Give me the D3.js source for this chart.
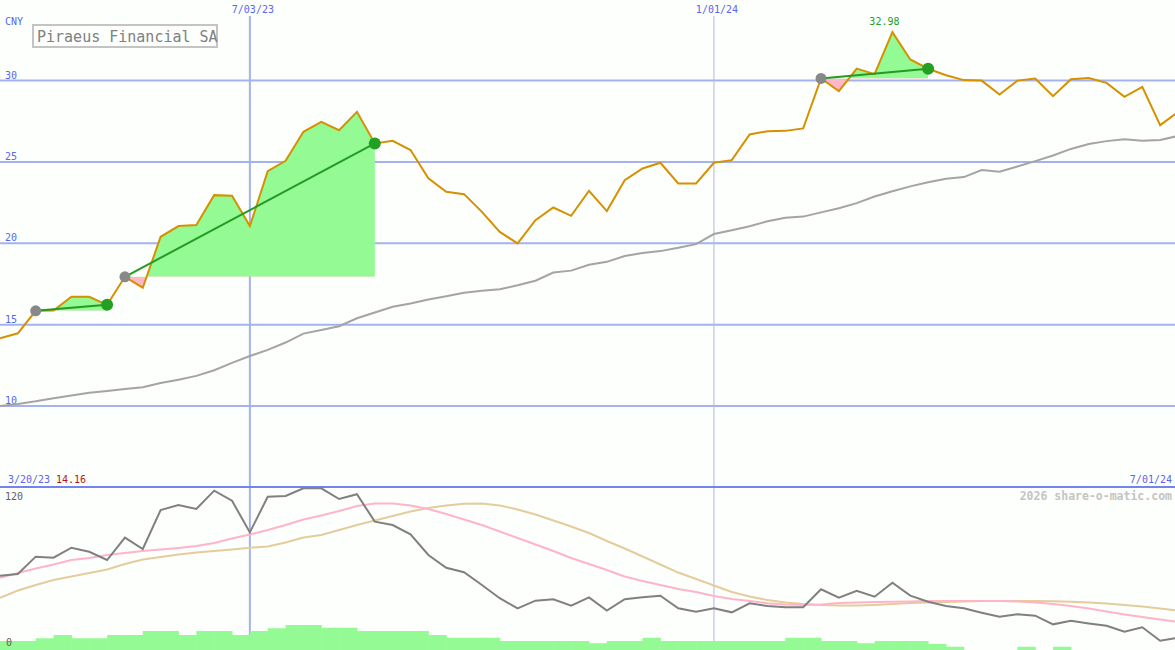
<!DOCTYPE html>
<html><head><meta charset="utf-8">
<script src="https://cdn.jsdelivr.net/npm/d3@7"></script>
<style>
html,body{margin:0;padding:0;background:#fcfffc;}
svg{display:block;}
text{font-family:"DejaVu Sans Mono",monospace;}
</style></head>
<body>
<svg id="c" width="1175" height="650"></svg>
<script>
// ---------- data ----------
const startDate = new Date(2023, 2, 27);
const endDate = new Date(2024, 6, 1);
const price = [14.16,14.47,15.85,15.87,16.71,16.71,16.22,17.94,17.27,20.4,21.06,21.12,22.96,22.92,21.06,24.43,25.07,26.85,27.47,26.95,28.08,26.14,26.3,25.73,23.99,23.17,23.02,21.93,20.7,19.99,21.42,22.2,21.69,23.23,21.98,23.88,24.6,24.95,23.68,23.68,24.95,25.11,26.69,26.89,26.91,27.06,30.13,29.35,30.74,30.4,32.98,31.3,30.73,30.33,30.03,30.0,29.15,30.0,30.13,29.04,30.08,30.16,29.86,29.0,29.61,27.26,28.06];
const longAvg = [10.0,10.13,10.29,10.48,10.64,10.81,10.92,11.04,11.15,11.41,11.62,11.85,12.2,12.65,13.07,13.45,13.9,14.45,14.67,14.9,15.39,15.75,16.1,16.3,16.55,16.75,16.96,17.08,17.17,17.42,17.7,18.2,18.32,18.68,18.86,19.22,19.4,19.52,19.73,19.95,20.57,20.8,21.05,21.35,21.57,21.64,21.9,22.15,22.47,22.88,23.2,23.5,23.75,23.97,24.07,24.5,24.4,24.72,25.05,25.4,25.8,26.1,26.28,26.4,26.3,26.35,26.6];
const osc = [53.6,55.0,68.4,67.6,75.3,72.2,65.8,83.1,74.3,104.5,108.4,105.3,119.5,111.7,87.2,114.8,115.4,121.3,121.3,113.0,116.7,95.5,92.9,85.7,69.7,59.8,56.3,46.5,36.2,28.4,34.3,35.4,30.4,36.9,26.6,35.4,36.9,38.2,28.4,25.8,28.4,25.3,32.3,30.2,29.2,29.2,43.1,36.6,42.0,37.4,48.2,38.2,33.5,30.2,28.4,25.0,21.9,23.8,22.7,16.0,18.8,16.7,14.9,10.3,13.7,3.3,5.7];
const oscFast = [52.1,55.7,59.2,62.3,65.8,67.4,69.7,71.2,72.8,73.9,75.1,76.6,79.0,82.5,85.5,89.0,92.9,97.2,100.3,103.7,107.6,109.5,109.5,108.0,105.3,101.4,97.2,92.9,87.9,82.8,77.8,72.8,67.4,62.7,58.1,53.0,49.5,46.5,43.4,41.0,37.9,35.6,34.1,32.3,31.4,31.0,31.4,32.5,32.9,33.3,33.5,33.7,34.1,34.1,34.1,34.1,34.1,33.7,32.9,31.7,30.2,28.3,25.9,23.6,21.7,19.7,17.8];
const oscSlow = [36.6,42.2,46.5,50.3,53.0,55.7,58.5,62.7,66.2,68.1,70.1,71.6,72.8,73.9,75.3,76.3,79.4,83.2,85.2,89.0,92.9,96.4,99.9,103.4,106.1,108.0,109.3,109.5,108.0,104.9,101.0,96.4,91.7,86.7,80.5,74.7,68.5,62.3,56.1,51.1,46.1,41.0,37.5,34.8,32.9,31.7,31.0,30.6,30.6,31.0,31.7,32.5,32.9,33.3,33.7,34.1,34.1,34.1,34.1,33.8,33.5,32.9,32.1,31.0,29.8,28.3,26.7];
const volume = [3.6,3.6,4.7,6,4.7,4.7,6,6,7.6,7.6,6,7.6,7.6,6,7.6,8.7,10,10,8.9,8.9,7.6,7.6,7.6,7.6,6,4.9,4.9,4.9,3.6,3.6,3.6,3.6,3.6,2.7,3.6,3.6,4.9,3.6,3.6,3.6,3.6,3.6,3.6,3.6,4.9,4.9,3.6,3.6,2.7,3.6,3.6,3.6,2.4,1.3,0,0,0,1.3,0,1.3,0,0,0,0,0,0,0];
const tradeEntry = [2, 7, 46];
const tradeExit = [6, 21, 52];
const priceTicks = [10, 15, 20, 25, 30];
const dateTicks = [new Date(2023, 6, 3), new Date(2024, 0, 1)];
const dateTickLabels = ["7/03/23", "1/01/24"];
const title = "Piraeus Financial SA";
const currency = "CNY";
const startLabel = "3/20/23";
const endLabel = "7/01/24";
const oscTopLabel = "120";
const oscBottomLabel = "0";
const credit = "2026 share-o-matic.com";

// ---------- build ----------
const dates = d3.timeWeek.range(startDate, d3.timeDay.offset(endDate, 1), 1).map(d => d);
const weekly = d3.timeMonday.range(startDate, d3.timeDay.offset(endDate, 1));
const D = weekly.slice(0, price.length);

const W = 1175, H = 650;
const svg = d3.select("#c");
svg.append("rect").attr("width", W).attr("height", H).attr("fill", "#fcfffc");

const x = d3.scaleTime().domain([startDate, endDate]).range([0, 1178]);
const y = d3.scaleLinear().domain([10, 30]).range([406, 80.6]);
const yo = d3.scaleLinear().domain([0, 120]).range([645, 490]);
const yv = d3.scaleLinear().domain([0, 10]).range([650, 625]);

const gridCol = "#a4b2f0";
const labCol = "#5a66f0";

// horizontal grid
const g = svg.append("g");
g.selectAll("line.h").data(priceTicks).join("line")
  .attr("x1", 0).attr("x2", W)
  .attr("y1", d => y(d)).attr("y2", d => y(d))
  .attr("stroke", gridCol).attr("stroke-width", 2);
g.selectAll("text.h").data(priceTicks).join("text")
  .attr("x", 5).attr("y", d => y(d) - 2)
  .attr("font-size", 10).attr("fill", labCol).text(d => d);

// vertical date lines
g.selectAll("line.v").data(dateTicks).join("line")
  .attr("x1", d => x(d)).attr("x2", d => x(d))
  .attr("y1", 16).attr("y2", H)
  .attr("stroke", (d, i) => i === 0 ? gridCol : "#b4b8d8")
  .attr("stroke-width", (d, i) => i === 0 ? 2 : 1);
g.selectAll("text.v").data(dateTicks).join("text")
  .attr("x", d => x(d) + 3).attr("y", 13).attr("text-anchor", "middle")
  .attr("font-size", 10).attr("fill", labCol).text((d, i) => dateTickLabels[i]);

// currency
svg.append("text").attr("x", 5).attr("y", 25).attr("font-size", 10).attr("fill", labCol).text(currency);

// title box
svg.append("rect").attr("x", 33).attr("y", 25).attr("width", 184).attr("height", 22)
  .attr("fill", "#fcfffc").attr("stroke", "#c4c4c4").attr("stroke-width", 2);
svg.append("text").attr("x", 37).attr("y", 41.5).attr("font-size", 15).attr("fill", "#808080").text(title);

// trade fills
const clipAbove = [], clipBelow = [];
tradeEntry.forEach((e, t) => {
  const idx = d3.range(e, tradeExit[t] + 1);
  const lvl = price[e];
  const area = d3.area().x(i => x(D[i])).y0(y(lvl)).y1(i => y(price[i]));
  const idA = "ca" + t, idB = "cb" + t;
  const defs = svg.append("defs");
  defs.append("clipPath").attr("id", idA).append("rect")
    .attr("x", 0).attr("y", 0).attr("width", W).attr("height", y(lvl));
  defs.append("clipPath").attr("id", idB).append("rect")
    .attr("x", 0).attr("y", y(lvl)).attr("width", W).attr("height", H);
  svg.append("path").attr("d", area(idx)).attr("fill", "#94fa94").attr("clip-path", `url(#${idA})`);
  svg.append("path").attr("d", area(idx)).attr("fill", "#ffb8c8").attr("clip-path", `url(#${idB})`);
});

// long average
svg.append("path")
  .attr("d", d3.line().x((d, i) => x(D[i])).y(d => y(d))(longAvg))
  .attr("fill", "none").attr("stroke", "#a4a4a4").attr("stroke-width", 2);

// price line
svg.append("path")
  .attr("d", d3.line().x((d, i) => x(D[i])).y(d => y(d))(price))
  .attr("fill", "none").attr("stroke", "#d69000").attr("stroke-width", 2);

// trade lines and dots
tradeEntry.forEach((e, t) => {
  const s = tradeExit[t];
  svg.append("line")
    .attr("x1", x(D[e])).attr("y1", y(price[e]))
    .attr("x2", x(D[s])).attr("y2", y(price[s]))
    .attr("stroke", "#249a24").attr("stroke-width", 2);
  svg.append("circle").attr("cx", x(D[e])).attr("cy", y(price[e])).attr("r", 5.5).attr("fill", "#888888");
  svg.append("circle").attr("cx", x(D[s])).attr("cy", y(price[s])).attr("r", 6).attr("fill", "#22a022");
});

// max label
const maxI = d3.maxIndex(price);
svg.append("text").attr("x", x(D[maxI]) - 8).attr("y", 25).attr("text-anchor", "middle")
  .attr("font-size", 10).attr("fill", "#22a022").text(d3.format(".2f")(price[maxI]));

// separator
svg.append("line").attr("x1", 0).attr("x2", W).attr("y1", 487).attr("y2", 487)
  .attr("stroke", "#7484ee").attr("stroke-width", 2);
svg.append("text").attr("x", 8).attr("y", 483).attr("font-size", 10).attr("fill", labCol).text(startLabel);
svg.append("text").attr("x", 56).attr("y", 483).attr("font-size", 10).attr("fill", "#b01818").text(d3.format(".2f")(price[0]));
svg.append("text").attr("x", 1172).attr("y", 483).attr("text-anchor", "end").attr("font-size", 10).attr("fill", labCol).text(endLabel);
svg.append("text").attr("x", 1172).attr("y", 500).attr("text-anchor", "end").attr("font-size", 11.5).attr("font-weight", "bold").attr("fill", "#c4c4c4").text(credit);
svg.append("text").attr("x", 5).attr("y", 500).attr("font-size", 10).attr("fill", "#606060").text(oscTopLabel);

// oscillator lines
const lo = d3.line().x((d, i) => x(D[i])).y(d => yo(d));
svg.append("path").attr("d", lo(oscSlow)).attr("fill", "none").attr("stroke", "#e4cc9c").attr("stroke-width", 2);
svg.append("path").attr("d", lo(oscFast)).attr("fill", "none").attr("stroke", "#ffb4c8").attr("stroke-width", 2);
svg.append("path").attr("d", lo(osc)).attr("fill", "none").attr("stroke", "#808080").attr("stroke-width", 2);

// volume bars
const bw = x(D[1]) - x(D[0]);
svg.append("g").selectAll("rect").data(volume).join("rect")
  .attr("x", (d, i) => x(D[i])).attr("width", bw + 0.5)
  .attr("y", d => yv(d)).attr("height", d => yv(0) - yv(d))
  .attr("fill", "#94fa94");
svg.append("text").attr("x", 6).attr("y", 646).attr("font-size", 10).attr("fill", "#606060").text(oscBottomLabel);
</script>
</body></html>
